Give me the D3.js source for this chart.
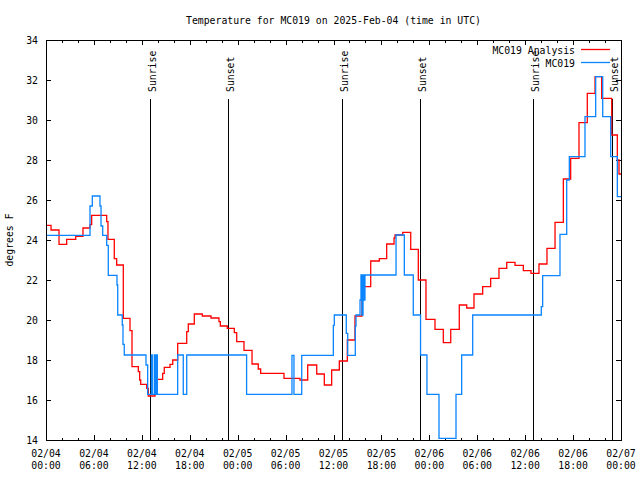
<!DOCTYPE html>
<html>
<head>
<meta charset="utf-8">
<script src="https://cdn.jsdelivr.net/npm/d3@7"></script>
<style>
    body { margin: 0; background: white; }
    text { font-family: "DejaVu Sans Mono", monospace; font-size: 9.8px; fill: black; }
</style>
</head>
<body>
<div id="chartDiv"></div>
<script>

// hours after 2025-02-04 00:00 UTC
var analysisHours = [0, 0.63, 1.63, 2.59, 3.72, 4.63, 5.51, 5.72, 7.60, 7.76, 8.55, 8.85, 9.68, 10.52, 10.77,
    11.56, 11.73, 11.86, 12.61, 12.81, 13.65, 13.86, 14.61, 14.81, 15.53, 15.87, 16.49, 17.62, 17.82, 18.57,
    19.57, 20.66, 21.66, 21.83, 22.70, 23.58, 23.88, 24.79, 25.80, 26.58, 26.88, 29.80, 31.80, 32.77, 33.90,
    34.85, 35.77, 36.73, 37.73, 38.69, 39.57, 40.66, 41.74, 42.66, 43.58, 43.70, 44.67, 45.67, 46.62, 47.58,
    48.71, 49.75, 50.68, 51.75, 52.68, 53.59, 54.68, 55.68, 56.72, 57.69, 58.73, 59.77, 60.73, 61.73, 62.73,
    63.74, 64.78, 65.70, 66.74, 67.78, 68.75, 69.58, 70.84, 71.54, 71.75, 72];
var analysisTemp = [24.73, 24.5, 23.78, 24.03, 24.18, 24.6, 24.77, 25.23, 24.92, 24.03, 23.07, 22.75, 20.08, 19.47, 17.67,
    17.42, 17.0, 16.78, 16.58, 16.2, 16.75, 17.03, 17.33, 17.63, 17.78, 18.0, 18.83, 19.42, 19.8, 20.3,
    20.2, 20.1, 19.92, 19.7, 19.58, 19.37, 18.92, 18.48, 17.8, 17.55, 17.33, 17.08, 17.0, 17.75, 17.3,
    16.75, 17.5, 17.95, 19.0, 20.2, 21.67, 22.95, 23.07, 23.8, 24.1, 24.25, 24.38, 23.53, 22.0, 20.03,
    19.53, 18.87, 19.53, 20.75, 20.6, 21.3, 21.67, 22.08, 22.58, 22.88, 22.73, 22.47, 22.33, 22.8, 23.58,
    24.88, 27.05, 28.08, 29.87, 31.33, 32.17, 31.08, 29.25, 28.0, 27.3, 27.3];

var obsHours = [0, 5.51, 5.80, 6.76, 6.89, 7.10, 7.60, 7.80, 8.89, 8.98, 9.55, 9.64, 9.80, 12.52, 12.73,
    13.19, 13.31, 13.56, 13.69, 13.86, 13.94, 16.49, 17.19, 17.62, 25.12, 30.80, 31.05, 32.02, 35.98, 36.10,
    37.60, 37.78, 38.73, 38.82, 39.32, 39.44, 39.57, 39.70, 39.82, 39.94, 43.83, 44.87, 45.99, 46.90, 47.70,
    49.21, 51.34, 52.05, 53.43, 62.02, 62.19, 64.36, 65.20, 65.53, 67.49, 68.83, 69.71, 70.71, 71.54, 72];
var obsTemp = [24.23, 25.7, 26.2, 25.7, 24.7, 24.23, 23.73, 22.23, 21.75, 20.25, 19.75, 18.78, 18.25, 17.75, 16.28,
    18.25, 16.28, 18.25, 16.28, 18.25, 16.28, 18.25, 16.28, 18.25, 16.28, 18.23, 16.28, 18.23, 19.73, 20.25,
    19.33, 18.23, 19.7, 20.25, 21.0, 22.25, 20.25, 22.25, 21.0, 22.25, 24.25, 22.25, 20.25, 18.25, 16.28,
    14.08, 16.28, 18.25, 20.25, 20.67, 22.22, 24.28, 27.0, 28.17, 30.17, 32.17, 30.17, 28.17, 26.17, 26.17];

var sunEvents = [
    {label: "Sunrise", time: "2025-02-04T13:04:00Z"},
    {label: "Sunset", time: "2025-02-04T22:50:00Z"},
    {label: "Sunrise", time: "2025-02-05T13:02:00Z"},
    {label: "Sunset", time: "2025-02-05T22:51:00Z"},
    {label: "Sunrise", time: "2025-02-06T13:01:00Z"},
    {label: "Sunset", time: "2025-02-06T22:53:00Z"}
];

var yTicks = [14, 16, 18, 20, 22, 24, 26, 28, 30, 32, 34];

var startTime = Date.UTC(2025, 1, 4);
function toDate(h) { return new Date(startTime + h * 3600000); }

var analysis = analysisHours.map(function (h, i) { return {t: toDate(h), v: analysisTemp[i]}; });
var obs = obsHours.map(function (h, i) { return {t: toDate(h), v: obsTemp[i]}; });

var width = 640, height = 480;
var plot = {left: 46, right: 621, top: 40, bottom: 440};

var x = d3.scaleUtc()
    .domain([toDate(0), toDate(72)])
    .range([plot.left, plot.right]);
var y = d3.scaleLinear()
    .domain([14, 34])
    .range([plot.bottom, plot.top]);

var svg = d3.select("#chartDiv").append("svg")
    .attr("width", width)
    .attr("height", height);

svg.append("defs").append("clipPath")
    .attr("id", "plotClip")
    .append("rect")
    .attr("x", plot.left).attr("y", plot.top)
    .attr("width", plot.right - plot.left).attr("height", plot.bottom - plot.top);

//title
svg.append("text")
    .attr("x", (plot.left + plot.right) / 2)
    .attr("y", 24)
    .attr("text-anchor", "middle")
    .text("Temperature for MC019 on 2025-Feb-04 (time in UTC)");

//y label
svg.append("text")
    .attr("transform", "translate(13," + ((plot.top + plot.bottom) / 2) + ") rotate(-90)")
    .attr("text-anchor", "middle")
    .text("degrees F");

var minorTimes = d3.utcHour.every(2).range(toDate(0), toDate(72.01));
var majorTimes = d3.utcHour.every(6).range(toDate(0), toDate(72.01));
var fmtDay = d3.utcFormat("%m/%d"), fmtHour = d3.utcFormat("%H:%M");

var ticks = svg.append("g")
    .attr("stroke", "black")
    .attr("stroke-width", 1)
    .attr("shape-rendering", "crispEdges");

// x ticks, bottom and top (mirrored)
minorTimes.forEach(function (t) {
    var len = (t.getUTCHours() % 6 == 0) ? 5 : 2.5;
    var px = Math.round(x(t)) + 0.5;
    ticks.append("line").attr("x1", px).attr("x2", px).attr("y1", plot.bottom).attr("y2", plot.bottom - len);
    ticks.append("line").attr("x1", px).attr("x2", px).attr("y1", plot.top).attr("y2", plot.top + len);
});

// y ticks, left and right
yTicks.forEach(function (v) {
    var py = Math.round(y(v)) + 0.5;
    ticks.append("line").attr("x1", plot.left).attr("x2", plot.left + 5).attr("y1", py).attr("y2", py);
    ticks.append("line").attr("x1", plot.right).attr("x2", plot.right - 5).attr("y1", py).attr("y2", py);
});

//x labels
var xLabels = svg.append("g").selectAll(".xlabel")
    .data(majorTimes)
    .enter().append("g")
    .attr("class", "xlabel")
    .attr("transform", function (d) { return "translate(" + x(d) + ",0)"; });
xLabels.append("text").attr("y", 457).attr("text-anchor", "middle").text(function (d) { return fmtDay(d); });
xLabels.append("text").attr("y", 469).attr("text-anchor", "middle").text(function (d) { return fmtHour(d); });

//y labels
svg.append("g").selectAll(".ylabel")
    .data(yTicks)
    .enter().append("text")
    .attr("class", "ylabel")
    .attr("x", plot.left - 8)
    .attr("y", function (d) { return y(d) + 3.5; })
    .attr("text-anchor", "end")
    .text(function (d) { return d; });

//sunrise / sunset lines
var sun = svg.append("g").selectAll(".sun")
    .data(sunEvents)
    .enter().append("g")
    .attr("class", "sun")
    .attr("transform", function (d) { return "translate(" + (Math.round(x(new Date(d.time))) + 0.5) + ",0)"; });
sun.append("line")
    .attr("y1", 99).attr("y2", plot.bottom)
    .attr("stroke", "black")
    .attr("stroke-width", 1)
    .attr("shape-rendering", "crispEdges");
sun.append("text")
    .attr("transform", "translate(5,92) rotate(-90)")
    .text(function (d) { return d.label; });

var line = d3.line()
    .curve(d3.curveStepAfter)
    .x(function (d) { return x(d.t); })
    .y(function (d) { return y(d.v); });

var lines = svg.append("g").attr("clip-path", "url(#plotClip)");

lines.append("path")
    .datum(analysis)
    .attr("d", line)
    .style("fill", "none")
    .style("stroke", "#ff0000")
    .style("stroke-width", 1.3);

lines.append("path")
    .datum(obs)
    .attr("d", line)
    .style("fill", "none")
    .style("stroke", "#0a84ff")
    .style("stroke-width", 1.3);

//frame
svg.append("rect")
    .attr("x", plot.left + 0.5).attr("y", plot.top + 0.5)
    .attr("width", plot.right - plot.left).attr("height", plot.bottom - plot.top)
    .attr("fill", "none")
    .attr("stroke", "black")
    .attr("shape-rendering", "crispEdges");

//legend
var legend = [{name: "MC019 Analysis", color: "#ff0000", y: 49.5}, {name: "MC019", color: "#0a84ff", y: 62.5}];
var leg = svg.append("g").selectAll(".legend")
    .data(legend)
    .enter().append("g")
    .attr("class", "legend");
leg.append("text")
    .attr("x", 575)
    .attr("y", function (d) { return d.y + 4; })
    .attr("text-anchor", "end")
    .text(function (d) { return d.name; });
leg.append("line")
    .attr("x1", 581).attr("x2", 610)
    .attr("y1", function (d) { return d.y; })
    .attr("y2", function (d) { return d.y; })
    .attr("stroke", function (d) { return d.color; })
    .attr("stroke-width", 1.3);

</script>
</body>
</html>
